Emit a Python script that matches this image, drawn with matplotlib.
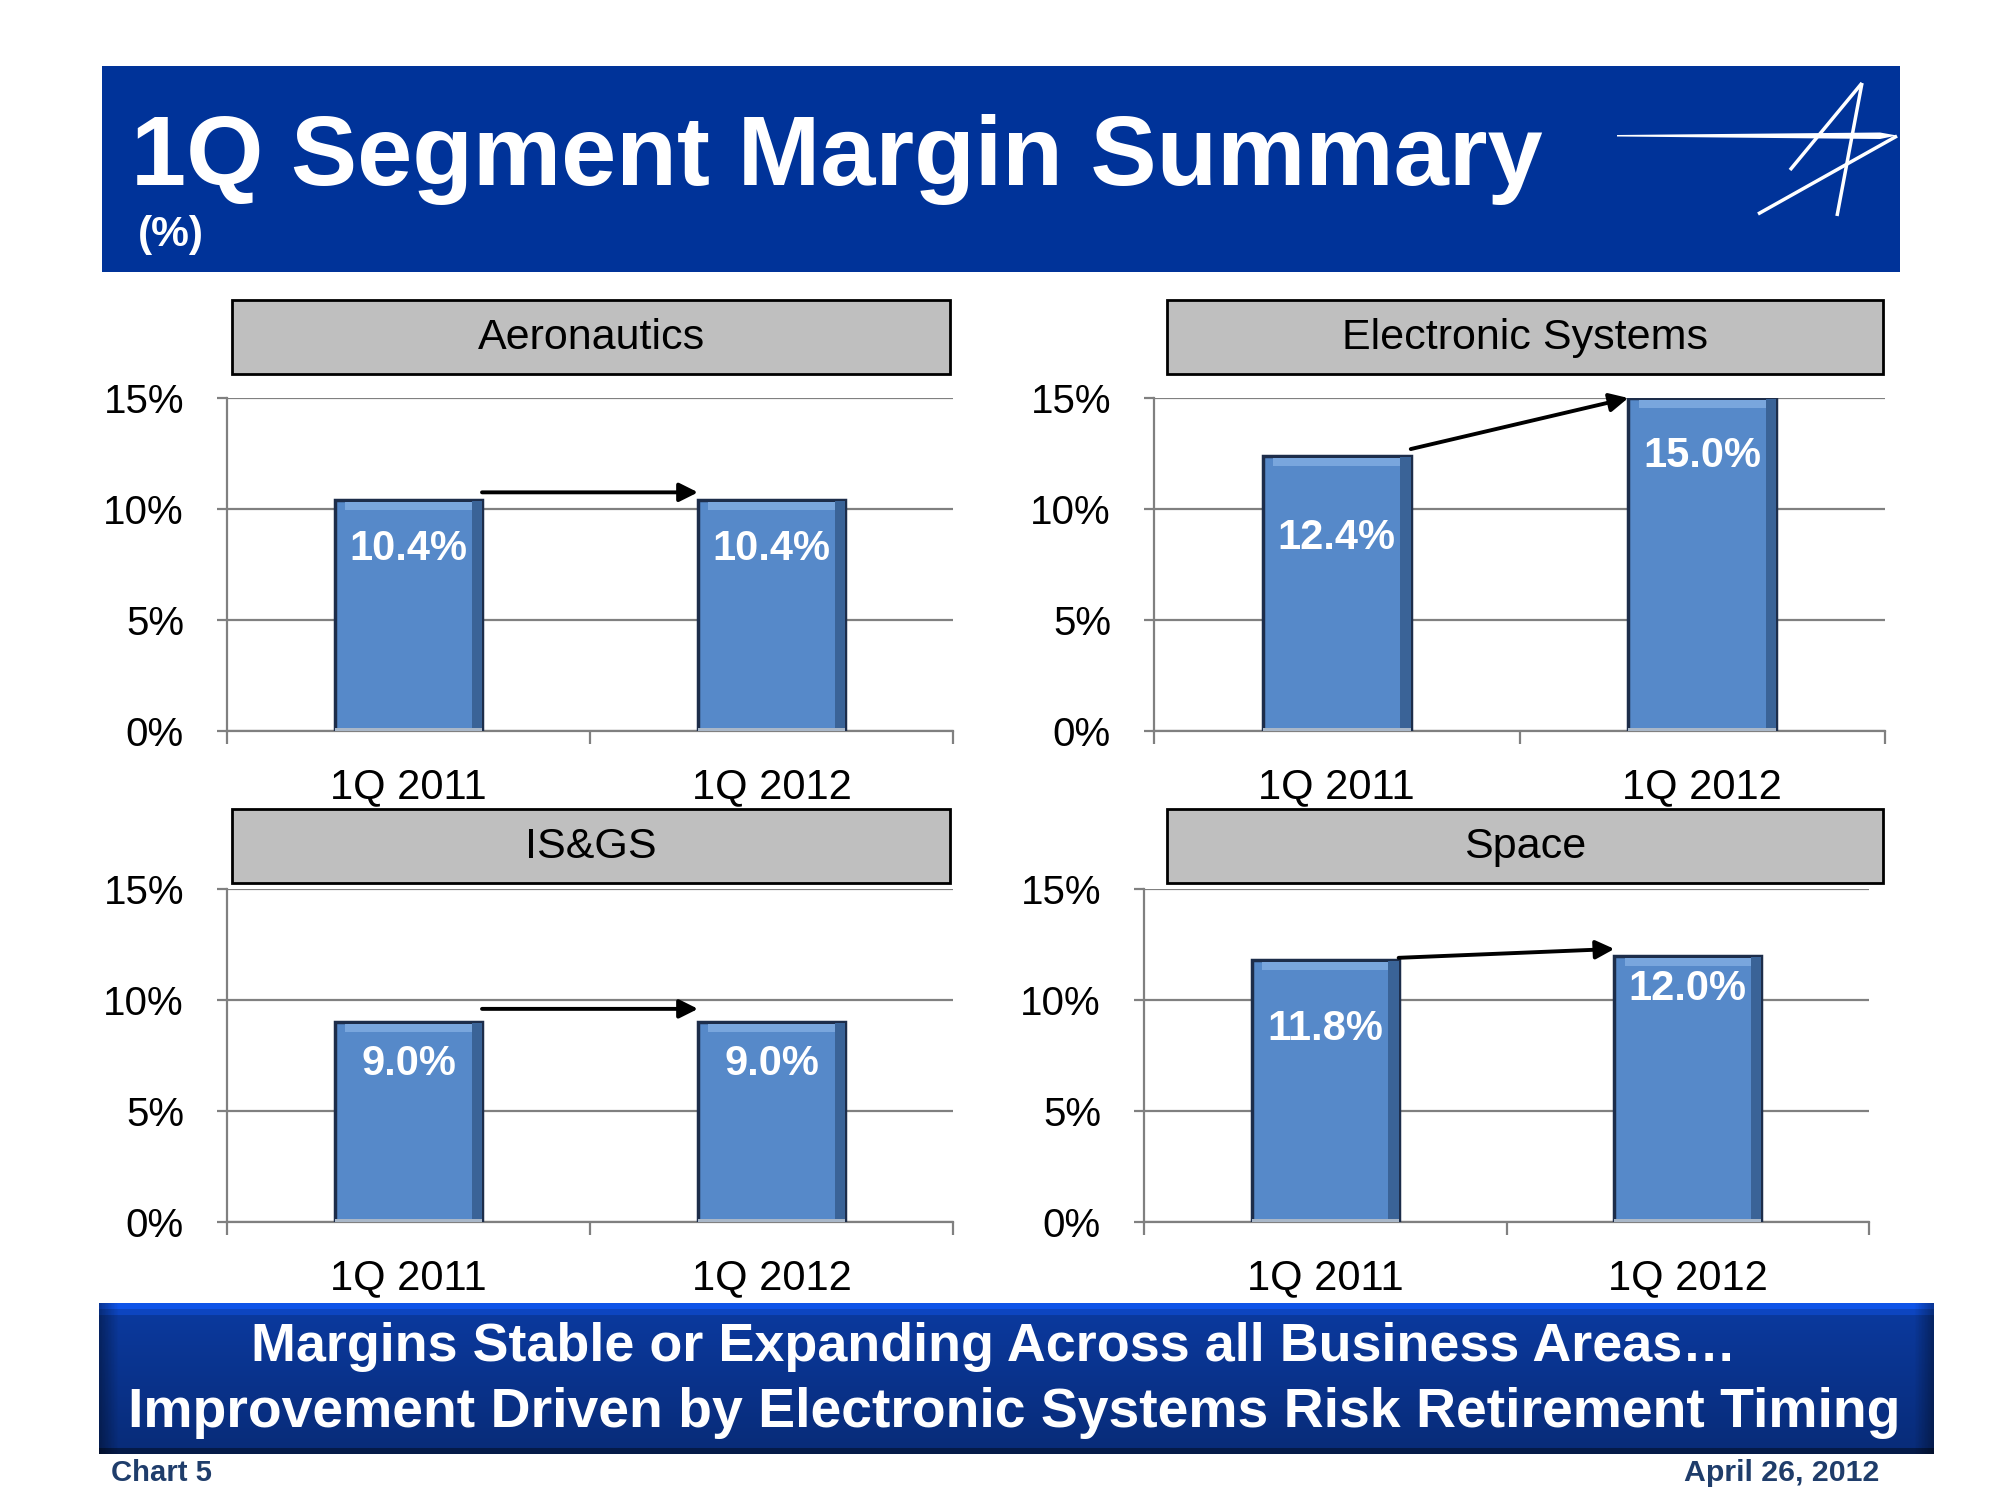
import matplotlib
matplotlib.use('Agg')
import matplotlib.pyplot as plt
from matplotlib.patches import Rectangle, Polygon
from matplotlib.lines import Line2D
import numpy as np

plt.rcParams['font.family'] = ['Liberation Sans', 'DejaVu Sans']

# dados do gráfico
periodos = ['1Q 2011', '1Q 2012']
segmentos = ['Aeronautics', 'Electronic Systems', 'IS&GS', 'Space']
margem_aero = [10.4, 10.4]
margem_es = [12.4, 15.0]
margem_isgs = [9.0, 9.0]
margem_space = [11.8, 12.0]
marcas_y = [0, 5, 10, 15]
rotulos_y = ['0%', '5%', '10%', '15%']

titulo = '1Q Segment Margin Summary'
subtitulo = '(%)'
faixa_1 = 'Margins Stable or Expanding Across all Business Areas\u2026'
faixa_2 = 'Improvement Driven by Electronic Systems Risk Retirement Timing'
rodape_esq = 'Chart 5'
rodape_dir = 'April 26, 2012'

W, H = 2000, 1500
fig = plt.figure(figsize=(20, 15), dpi=100)
fig.patch.set_facecolor('white')
r = fig.canvas.get_renderer()


def fx(px):
    return px / W


def fy(py):
    return 1 - py / H


def texto(x, y, s, largura=None, **kw):
    # cria o texto e ajusta o tamanho para a largura desejada (pixels)
    t = fig.text(fx(x), fy(y), s, **kw)
    if largura is not None:
        bb = t.get_window_extent(r)
        t.set_fontsize(t.get_fontsize() * largura / bb.width)
    return t


# faixa do título
fig.add_artist(Rectangle((fx(102), fy(272)), fx(1900) - fx(102), fy(66) - fy(272),
                         transform=fig.transFigure, fc='#003399', ec='none'))
texto(131, 185, titulo, 1412, color='white', fontweight='bold', fontsize=70,
      ha='left', va='baseline')
texto(138, 246, subtitulo, 66, color='white', fontweight='bold', fontsize=28,
      ha='left', va='baseline')

# logo (estrela)
fig.add_artist(Polygon([(fx(1617), fy(135)), (fx(1880), fy(132.5)), (fx(1897), fy(135.5)),
                        (fx(1880), fy(139)), (fx(1617), fy(136.5))],
                       closed=True, transform=fig.transFigure, fc='white', ec='none'))
for (x0, y0), (x1, y1) in [((1862, 83), (1790, 170)), ((1862, 83), (1837, 216)),
                           ((1897, 136), (1758, 214))]:
    fig.add_artist(Line2D([fx(x0), fx(x1)], [fy(y0), fy(y1)], transform=fig.transFigure,
                          color='white', lw=2.5, solid_capstyle='butt'))


def painel(ax_px, caixa_px, nome, valores, seta_off, rot_off):
    x0, y0, x1, y1 = ax_px
    ax = fig.add_axes([fx(x0), fy(y1), fx(x1) - fx(x0), fy(y0) - fy(y1)])
    x = np.arange(len(periodos))
    v = np.array(valores)
    w = 0.405

    # barras com efeito de relevo
    ax.bar(x, v, width=w, color='#5689C9', edgecolor='#1D2D4A', linewidth=2.5, zorder=3)
    ax.bar(x + w / 2 - w * 0.035, v - 0.1, bottom=0.05, width=w * 0.07,
           color='#3A6397', linewidth=0, zorder=4)
    ax.bar(x, 0.35, bottom=v - 0.45, width=w * 0.86, color='#79A6DD', linewidth=0, zorder=4)
    ax.bar(x, 0.12, bottom=0.0, width=w, color='#A9B7C8', linewidth=0, zorder=4)

    for xi, vi, ro in zip(x, v, rot_off):
        ax.text(xi, vi - ro, '%.1f%%' % vi, ha='center', va='center', color='white',
                fontweight='bold', fontsize=30, zorder=6)

    # seta entre as barras
    ax.annotate('', xy=(x[1] - w / 2, v[1] + seta_off[1]),
                xytext=(x[0] + w / 2, v[0] + seta_off[0]),
                arrowprops=dict(arrowstyle='-|>', color='black', lw=2.8,
                                mutation_scale=28, shrinkA=0, shrinkB=0),
                annotation_clip=False, zorder=7)

    ax.set_xlim(-0.5, 1.5)
    ax.set_ylim(0, 15)
    ax.set_yticks(marcas_y)
    ax.set_yticklabels(rotulos_y)
    ax.set_xticks(x)
    ax.set_xticklabels(periodos)
    ax.set_xticks([-0.5, 0.5, 1.5], minor=True)
    ax.yaxis.grid(True, color='#808080', lw=1.6)
    ax.set_axisbelow(True)
    for lado in ['top', 'right']:
        ax.spines[lado].set_visible(False)
    for lado in ['left', 'bottom']:
        ax.spines[lado].set_color('#808080')
        ax.spines[lado].set_linewidth(1.6)
    ax.tick_params(axis='y', length=7, width=1.6, color='#808080', pad=24, labelsize=29)
    ax.tick_params(axis='x', which='major', length=0, pad=26, labelsize=30)
    ax.tick_params(axis='x', which='minor', length=9, width=1.6, color='#808080')

    # caixa do nome do segmento
    c0, c1, c2, c3 = caixa_px
    fig.add_artist(Rectangle((fx(c0), fy(c3)), fx(c2) - fx(c0), fy(c1) - fy(c3),
                             transform=fig.transFigure, fc='#BFBFBF', ec='black', lw=2))
    fig.text(fx((c0 + c2) / 2), fy((c1 + c3) / 2 + 1), nome, ha='center', va='center',
             fontsize=31, color='black')
    return ax


painel((227, 398, 953, 731), (232, 300, 950, 374), segmentos[0], margem_aero,
       (0.35, 0.35), (2.2, 2.2))
painel((1154, 398, 1885, 731), (1167, 300, 1883, 374), segmentos[1], margem_es,
       (0.3, 0.0), (3.7, 2.6))
painel((227, 889, 953, 1222), (232, 809, 950, 883), segmentos[2], margem_isgs,
       (0.6, 0.6), (1.9, 1.9))
painel((1144, 889, 1869, 1222), (1167, 809, 1883, 883), segmentos[3], margem_space,
       (0.1, 0.3), (3.1, 1.5))

# faixa inferior com gradiente
axb = fig.add_axes([fx(99), fy(1454), fx(1934) - fx(99), fy(1303) - fy(1454)])
axb.axis('off')
t = np.linspace(0, 1, 150)[:, None]
s = np.linspace(0, 1, 600)[None, :]
base = np.array([11, 58, 160]) / 255.0
vert = 1.0 - 0.25 * t
vert[:6] = 1.45
vert[6:12] = 1.2
vert[-6:] = 0.45
horiz = 1.0 - 0.35 * np.clip(1 - np.minimum(s, 1 - s) / 0.01, 0, 1)
img = np.clip(base[None, None, :] * (vert * horiz)[:, :, None], 0, 1)
axb.imshow(img, aspect='auto', extent=[0, 1, 0, 1])
texto(994, 1347, faixa_1, 1482, color='white', fontweight='bold', fontsize=40,
      ha='center', va='center')
texto(1014, 1413, faixa_2, 1772, color='white', fontweight='bold', fontsize=40,
      ha='center', va='center')

# rodapé
texto(111, 1473, rodape_esq, 101, color='#1F3D6B', fontweight='bold', fontsize=21,
      ha='left', va='center')
texto(1879, 1473, rodape_dir, 195, color='#1F3D6B', fontweight='bold', fontsize=21,
      ha='right', va='center')

fig.savefig('out.png', dpi=100, facecolor='white')
